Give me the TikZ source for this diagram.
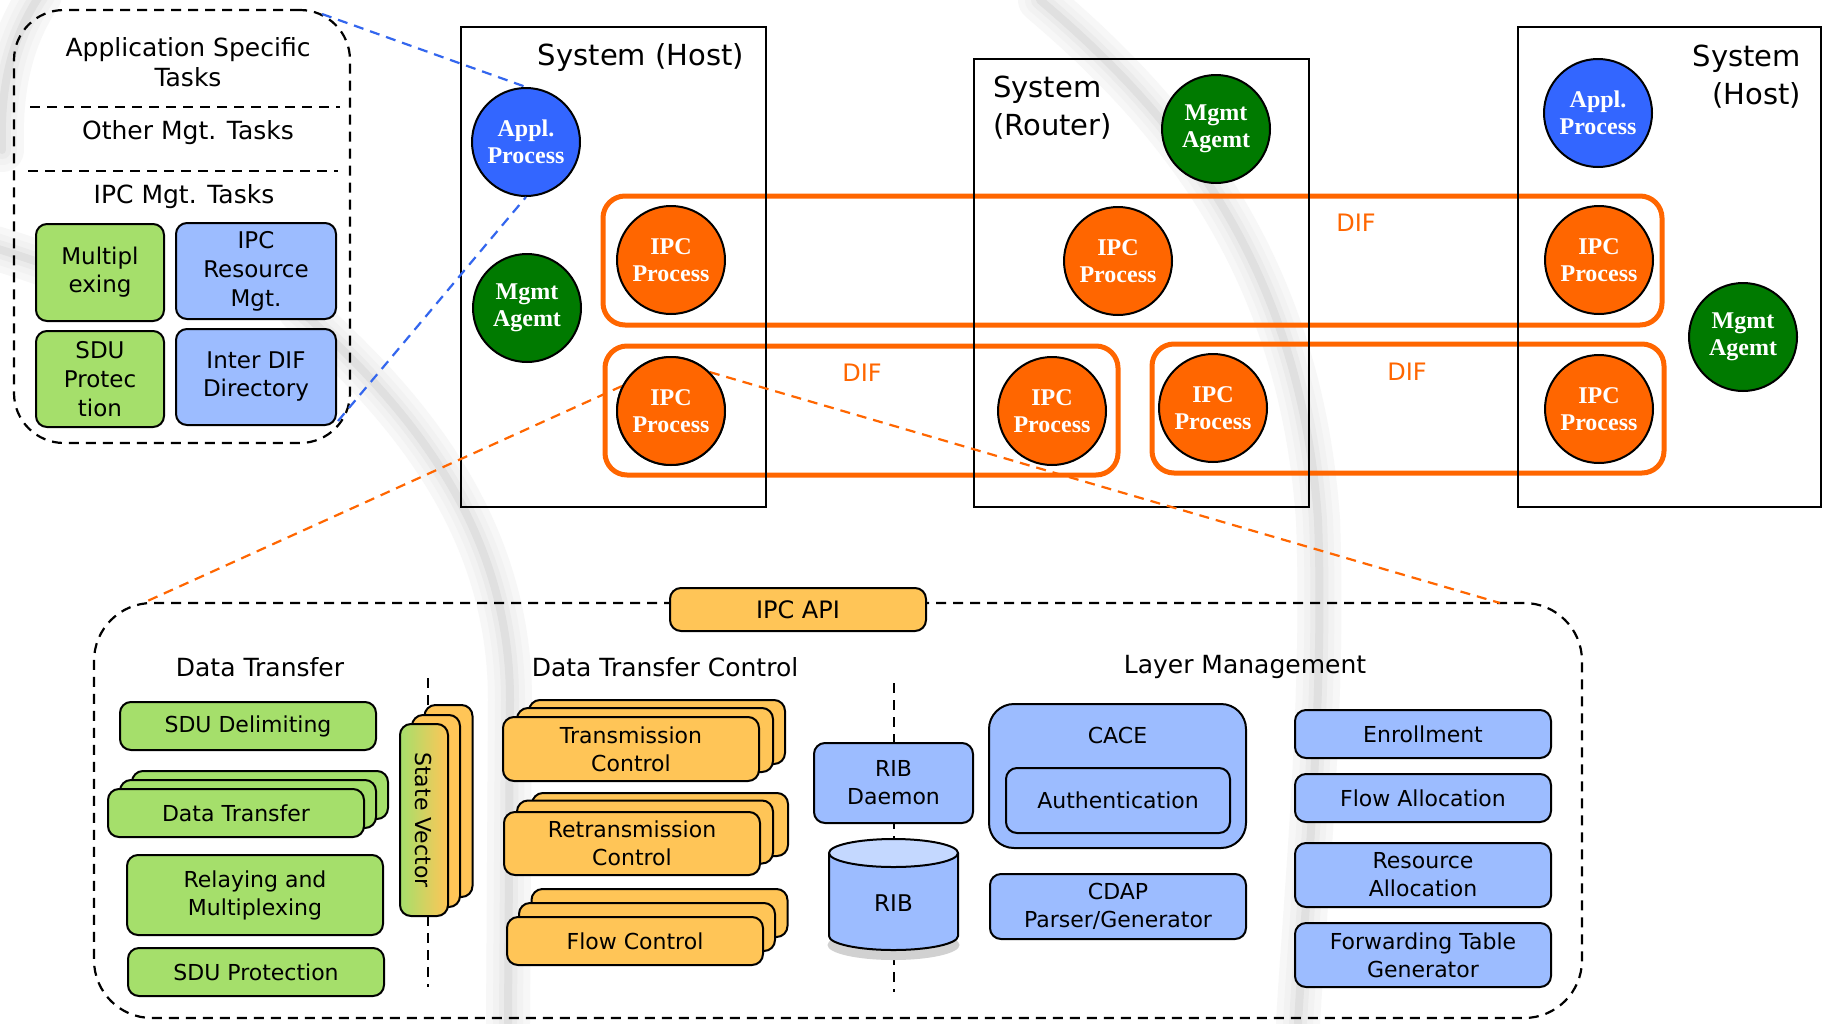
\documentclass[tikz,border=0pt]{standalone}
\usepackage{fontspec}
\setmainfont{DejaVu Sans}
\newfontfamily\cfont{Liberation Serif}
\newcommand{\myfs}[2]{\fontsize{#1}{#2}\selectfont}
\definecolor{difor}{HTML}{FF6600}
\definecolor{applblue}{HTML}{3366FF}
\definecolor{mgmtgreen}{HTML}{007A00}
\definecolor{gfill}{HTML}{A5DF6B}
\definecolor{bfill}{HTML}{9CBCFF}
\definecolor{ofill}{HTML}{FFC557}
\definecolor{btop}{HTML}{C4D8FF}
\definecolor{dashblue}{HTML}{3366EE}
\begin{document}
\begin{tikzpicture}[x=1pt,y=-1pt,
  sysbox/.style={draw=black, line width=2.2, inner sep=0},
  circ/.style={circle, draw=black, line width=2, minimum size=108, inner sep=0, text=white, font=\cfont\bfseries\myfs{24}{27}, align=center},
  applc/.style={circ, fill=applblue},
  mgmtc/.style={circ, fill=mgmtgreen},
  ipcc/.style={circ, fill=difor},
  difbox/.style={draw=difor, line width=5, rounded corners=22, inner sep=0},
  diflbl/.style={text=difor, font=\myfs{24}{28}},
  bx/.style={draw=black, line width=2, rounded corners=11, align=center, inner sep=0, font=\myfs{22}{28}},
  gbox/.style={bx, fill=gfill},
  bbox/.style={bx, fill=bfill},
  obox/.style={bx, fill=ofill},
  dashln/.style={dash pattern=on 10pt off 7pt, line width=2.2},
  head/.style={font=\myfs{25}{30}, inner sep=0},
  syslbl/.style={font=\myfs{29}{38}, inner sep=0},
  bgarc/.style={line cap=round}
]
\useasboundingbox (0,0) rectangle (1825,1023);
\fill[white] (0,0) rectangle (1825,1023);

% faint background arcs
\foreach \w/\c in {44/3,30/5,18/8,8/12}{
  \draw[bgarc, line width=\w, draw=black!\c] (1040,0) .. controls (1170,110) and (1300,260) .. (1318,520) .. controls (1325,700) and (1305,900) .. (1298,1023);
  \draw[bgarc, line width=\w, draw=black!\c] (300,310) .. controls (400,400) and (510,520) .. (510,700) -- (508,1023);
  \draw[bgarc, line width=\w, draw=black!\c] (40,-5) .. controls (10,40) and (0,90) .. (2,150);
  \draw[bgarc, line width=\w, draw=black!\c] (-5,248) .. controls (40,262) and (80,276) .. (120,296);
}

% ---------- top-left management box ----------
\node[draw, dashln, rounded corners=50, minimum width=336, minimum height=433, inner sep=0] (tlbox) at (182,226.5) {};
\coordinate (s1a) at (30,107); \coordinate (s1b) at (340,107);
\coordinate (s2a) at (28,171); \coordinate (s2b) at (338,171);
\draw[dashln] (s1a) -- (s1b);
\draw[dashln] (s2a) -- (s2b);
\node[head, align=center] (ast) at (188,62) {Application Specific\\Tasks};
\node[head] (omt) at (188,133) {Other Mgt. Tasks};
\node[head] (imt) at (184,197) {IPC Mgt. Tasks};
\node[gbox, font=\myfs{23}{28}, minimum width=128, minimum height=97] (mux) at (100,272.5) {Multipl\\exing};
\node[bbox, font=\myfs{23}{29}, minimum width=160, minimum height=96] (irm) at (256,271) {IPC\\Resource\\Mgt.};
\node[gbox, font=\myfs{23}{29}, minimum width=128, minimum height=96] (sdpt) at (100,379) {SDU\\Protec\\tion};
\node[bbox, font=\myfs{23}{28}, minimum width=160, minimum height=96] (idd) at (256,377) {Inter DIF\\Directory};

% ---------- DIFs ----------
\node[difbox, minimum width=1059, minimum height=129] (difT) at (1132.5,260.5) {};
\node[difbox, minimum width=513, minimum height=129] (difBL) at (861.5,410.5) {};
\node[difbox, minimum width=512, minimum height=129] (difBR) at (1408,408.5) {};
\node[diflbl] (dl1) at (1356,223) {DIF};
\node[diflbl] (dl2) at (862,373) {DIF};
\node[diflbl] (dl3) at (1407,372) {DIF};

% ---------- systems ----------
\node[sysbox, minimum width=305, minimum height=480] (host1) at (613.5,267) {};
\node[sysbox, minimum width=335, minimum height=448] (router) at (1141.5,283) {};
\node[sysbox, minimum width=303, minimum height=480] (host2) at (1669.5,267) {};
\node[syslbl] (h1l) at (641,58) {System (Host)};
\node[syslbl, align=left, anchor=west] (rl) at (993,108) {System\\(Router)};
\node[syslbl, align=right, anchor=east] (h2l) at (1801,77) {System\\(Host)};

% ---------- big bottom box ----------
\node[draw, dashln, rounded corners=58, minimum width=1488, minimum height=415, inner sep=0] (bigbox) at (838,810.5) {};
\coordinate (bbl) at (143,603);
\coordinate (bbr) at (1500,603);

% ---------- circles ----------
\node[ipcc] (ipc1b) at (671,411) {IPC\\Process};
\draw[difor, dash pattern=on 10pt off 7pt, line width=2.2] (ipc1b.153) -- (bbl);
\draw[difor, dash pattern=on 10pt off 7pt, line width=2.2] (ipc1b.45) -- (bbr);
\node[ipcc] (ipc1bb) at (671,411) {IPC\\Process};

\node[applc] (appl1) at (526,142) {Appl.\\Process};
\coordinate (tlc1) at (322,14);
\coordinate (tlc2) at (338,421);
\draw[dashblue, dash pattern=on 10pt off 7pt, line width=2.2] (tlc1) -- (appl1.north);
\draw[dashblue, dash pattern=on 10pt off 7pt, line width=2.2] (tlc2) -- (appl1.south);
\node[mgmtc] (mgmt1) at (527,308) {Mgmt\\Agemt};
\node[ipcc] (ipc1t) at (671,260) {IPC\\Process};
\node[mgmtc] (mgmtR) at (1216,129) {Mgmt\\Agemt};
\node[ipcc] (ipcRt) at (1118,261) {IPC\\Process};
\node[ipcc] (ipcRb) at (1052,411) {IPC\\Process};
\node[applc] (appl2) at (1598,113) {Appl.\\Process};
\node[ipcc] (ipc2t) at (1599,260) {IPC\\Process};
\node[mgmtc] (mgmt2) at (1743,337) {Mgmt\\Agemt};
\node[ipcc] (ipcR2b) at (1213,408) {IPC\\Process};
\node[ipcc] (ipc2b) at (1599,409) {IPC\\Process};

% ---------- IPC API ----------
\node[obox, font=\myfs{24}{28}, minimum width=256, minimum height=43] (api) at (798,609.5) {IPC API};

% ---------- headings ----------
\node[head] (hdt) at (260,667) {Data Transfer};
\node[head] (hdtc) at (665,667) {Data Transfer Control};
\node[head] (hlm) at (1245,667) {Layer Management};

% ---------- vertical dashed separators ----------
\coordinate (v1a) at (428,678); \coordinate (v1b) at (428,987);
\coordinate (v2a) at (894,683); \coordinate (v2b) at (894,992);
\draw[dashln] (v1a) -- (v1b);
\draw[dashln] (v2a) -- (v2b);

% ---------- Data Transfer ----------
\node[gbox, minimum width=256, minimum height=48] (sdudel) at (248,726) {SDU Delimiting};
\node[gbox, minimum width=256, minimum height=48] (dt3) at (260,795) {};
\node[gbox, minimum width=256, minimum height=48] (dt2) at (248,804) {};
\node[gbox, minimum width=256, minimum height=48] (dt1) at (236,813) {Data Transfer};
\node[gbox, minimum width=256, minimum height=80] (relay) at (255,895) {Relaying and\\Multiplexing};
\node[gbox, minimum width=256, minimum height=48] (sdupr) at (256,972) {SDU Protection};
\node[obox, minimum width=48, minimum height=192] (sv3) at (448.5,801) {};
\node[obox, minimum width=48, minimum height=192] (sv2) at (436,811) {};
\node[bx, left color=gfill, right color=ofill, minimum width=48, minimum height=192] (sv1) at (424,820) {};
\node[rotate=-90, font=\myfs{22}{26}, inner sep=0] (svt) at (sv1.center) {State Vector};

% ---------- Data Transfer Control ----------
\node[obox, minimum width=256, minimum height=64] (tc3) at (657,732) {};
\node[obox, minimum width=256, minimum height=64] (tc2) at (645,740) {};
\node[obox, minimum width=256, minimum height=64] (tc1) at (631,749) {Transmission\\Control};
\node[obox, minimum width=256, minimum height=63] (rc3) at (660,824.5) {};
\node[obox, minimum width=256, minimum height=63] (rc2) at (645,832) {};
\node[obox, minimum width=256, minimum height=63] (rc1) at (632,843.5) {Retransmission\\Control};
\node[obox, minimum width=256, minimum height=48] (fc3) at (659.5,913) {};
\node[obox, minimum width=256, minimum height=48] (fc2) at (647,927) {};
\node[obox, minimum width=256, minimum height=48] (fc1) at (635,941) {Flow Control};

% ---------- RIB ----------
\node[bbox, minimum width=159, minimum height=80] (ribd) at (893.5,783) {RIB\\Daemon};
\fill[black!18] (893.5,945) ellipse [x radius=66pt, y radius=15pt];
\draw[fill=bfill, line width=2] (829,853) -- (829,936) arc[start angle=180, end angle=360, x radius=64.5pt, y radius=14pt] -- (958,853);
\draw[fill=btop, line width=2] (893.5,853) ellipse [x radius=64.5pt, y radius=14pt];
\node[font=\myfs{23}{28}, inner sep=0] (rib) at (893.5,903) {RIB};

% ---------- Layer Management ----------
\node[bbox, rounded corners=25, minimum width=257, minimum height=144] (cace) at (1117.5,776) {};
\node[font=\myfs{22}{28}, inner sep=0] (cacet) at (1117.5,735) {CACE};
\node[bbox, minimum width=224, minimum height=65] (auth) at (1118,800.5) {Authentication};
\node[bbox, minimum width=256, minimum height=65] (cdap) at (1118,906.5) {CDAP\\Parser/Generator};
\node[bbox, minimum width=256, minimum height=48] (enr) at (1423,734) {Enrollment};
\node[bbox, minimum width=256, minimum height=48] (flowa) at (1423,798) {Flow Allocation};
\node[bbox, minimum width=256, minimum height=64] (resa) at (1423,875) {Resource\\Allocation};
\node[bbox, minimum width=256, minimum height=64] (fwd) at (1423,955) {Forwarding Table\\Generator};
\end{tikzpicture}
\end{document}
